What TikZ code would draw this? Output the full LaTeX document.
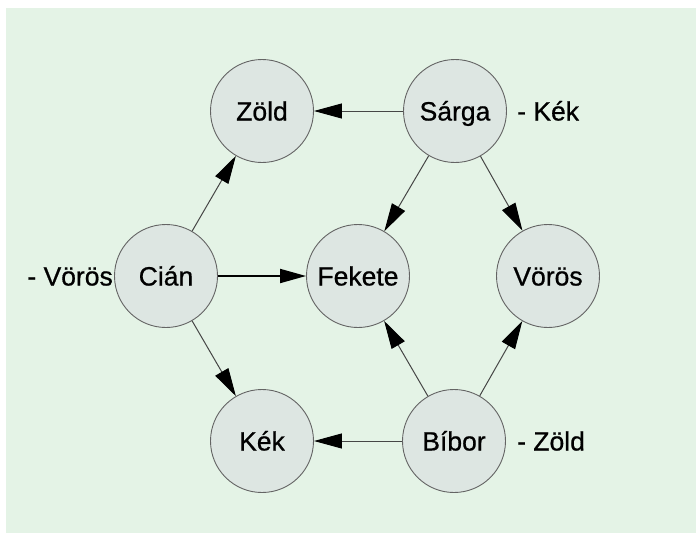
\documentclass[tikz,border=0pt]{standalone}
\usepackage{fontspec}
\setmainfont{Liberation Sans}
\newfontfamily\lblfont[FakeBold=0.7]{Liberation Sans}
\usetikzlibrary{arrows.meta}
\definecolor{bgc}{RGB}{228,243,230}
\definecolor{nodefill}{RGB}{221,230,226}
\definecolor{nodeline}{RGB}{100,100,100}
\definecolor{edgec}{RGB}{70,70,70}
\begin{document}
\begin{tikzpicture}[x=1pt,y=-1pt,
  colnode/.style={circle, draw=nodeline, line width=0.9pt, fill=nodefill,
    minimum size=103pt, inner sep=0pt, font=\lblfont\fontsize{26.5}{30}\selectfont,
    text height=19pt, text depth=0pt},
  sidelabel/.style={inner sep=0pt, font=\lblfont\fontsize{26.5}{30}\selectfont,
    text height=19pt, text depth=0pt},
  conn/.style={draw=edgec, line width=1pt, -{Triangle[length=28pt,width=15pt,color=black,fill=black]}},
  strongconn/.style={draw=black, line width=1.8pt, -{Triangle[length=26pt,width=14pt,fill=black]}}]
\useasboundingbox (0,0) rectangle (696,533);
\fill[white] (0,0) rectangle (696,533);
\fill[bgc] (6,8) rectangle (696,533);

\node[colnode] (zold)   at (262,111) {Zöld};
\node[colnode] (sarga)  at (455,111) {Sárga};
\node[colnode] (cian)   at (166,276) {Cián};
\node[colnode] (fekete) at (358,276) {Fekete};
\node[colnode] (voros)  at (548,276) {Vörös};
\node[colnode] (kek)    at (262,441) {Kék};
\node[colnode] (bibor)  at (454,441) {Bíbor};

\node[sidelabel, anchor=west] (lkek)   at (517,111) {- Kék};
\node[sidelabel, anchor=east] (lvoros) at (113,276) {- Vörös};
\node[sidelabel, anchor=west] (lzold)  at (517,441) {- Zöld};

\draw[conn] (sarga) -- (zold);
\draw[conn] (sarga) -- (fekete);
\draw[conn] (sarga) -- (voros);
\draw[conn] (cian) -- (zold);
\draw[strongconn] (cian) -- (fekete);
\draw[conn] (cian) -- (kek);
\draw[conn] (bibor) -- (kek);
\draw[conn] (bibor) -- (fekete);
\draw[conn] (bibor) -- (voros);
\end{tikzpicture}
\end{document}
